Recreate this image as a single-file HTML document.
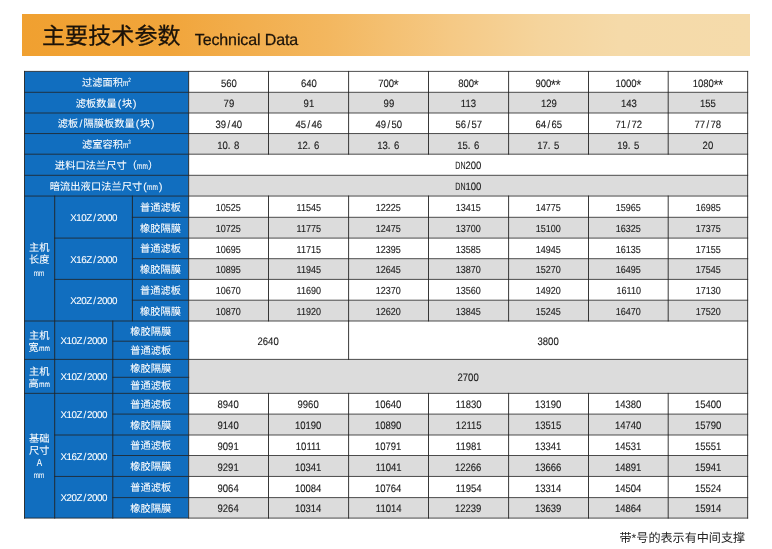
<!DOCTYPE html>
<html lang="zh-CN">
<head>
<meta charset="utf-8">
<title>主要技术参数 Technical Data</title>
<style>
html,body{margin:0;padding:0;background:#fff;}
body{text-rendering:geometricPrecision;width:772px;height:549px;position:relative;overflow:hidden;font-family:"Liberation Sans","Noto Sans CJK SC",sans-serif;}
.banner{position:absolute;left:22px;top:14px;width:728px;height:42px;background:linear-gradient(90deg,#f0a030 0%,#f1a53b 20%,#f3b75f 42%,#f5c985 59%,#f5d49c 71%,#f5daa9 82%,#f5dbab 100%);}
.title{position:absolute;left:42px;top:14px;height:42px;line-height:42px;white-space:nowrap;color:#1a1209;}
.title .zh{font-size:23px;letter-spacing:0.1px;-webkit-text-stroke:0.3px #1a1209;position:relative;top:1.4px;}
.title .en{font-size:16px;letter-spacing:-0.12px;margin-left:14.2px;position:relative;top:1.6px;-webkit-text-stroke:0.25px #1a1209;}
svg.grid{position:absolute;left:0;top:0;}
.hl{stroke:#222;stroke-width:0.8;}
.vl{stroke:#222;stroke-width:0.9;}
.c{position:absolute;width:140px;height:14px;line-height:14px;text-align:center;white-space:nowrap;}
.h{color:#fff;font-size:10.2px;letter-spacing:0.1px;-webkit-text-stroke:0.08px #fff;}
.h b{font-weight:normal;display:inline-block;width:5.1px;text-align:center;}
.h i{font-style:normal;font-size:8.8px;letter-spacing:0;line-height:0;display:inline-block;transform:scaleX(0.74);transform-origin:0 50%;margin-right:-0.433em;}
.h i.q{margin-right:-0.3em;}
.h i.w{font-size:8.2px;transform:scaleX(0.8);margin-right:-0.333em;position:relative;top:-0.2px;}
.h i sup{font-size:6px;vertical-align:baseline;position:relative;top:-4.5px;left:-0.3px;}
.d{color:#1a1a1a;font-size:10.9px;-webkit-text-stroke:0.12px #1a1a1a;}
.d span{display:inline-block;transform:scaleX(0.875);}
.d.l{font-size:10.2px;}
.d.l span{transform:scaleX(0.885);}
.d.t{font-size:10.6px;}
.d.t span{transform:scaleX(0.9);}
.d b{font-weight:normal;display:inline-block;width:6px;text-align:center;}
.d var{font-style:normal;font-size:15px;line-height:0;display:inline-block;position:relative;top:2.6px;margin-left:-0.6px;-webkit-text-stroke:0;}
.d u{display:inline-block;width:4px;text-decoration:none;}
.d em{font-style:normal;display:inline-block;transform:scaleX(0.74);transform-origin:100% 50%;margin-left:-3.2px;}
.m{font-size:9.8px;letter-spacing:-0.45px;}
.u{font-size:8.4px;letter-spacing:0;}
.u span{display:inline-block;transform:scaleX(0.74);}
.a{font-size:10px;}
.a span{display:inline-block;transform:scaleX(0.8);}
.note{position:absolute;left:619.5px;top:530.2px;font-size:12.1px;line-height:17px;color:#222;white-space:nowrap;}
</style>
</head>
<body>
<div class="banner"></div>
<div class="title"><span class="zh">主要技术参数</span><span class="en">Technical Data</span></div>
<svg class="grid" width="772" height="549" viewBox="0 0 772 549">
<rect x="24.50" y="71.40" width="164.15" height="446.70" fill="#116ebf"/>
<rect x="188.65" y="92.30" width="559.00" height="20.70" fill="#dcdcdc"/>
<rect x="188.65" y="133.55" width="559.00" height="20.65" fill="#dcdcdc"/>
<rect x="188.65" y="175.30" width="559.00" height="20.75" fill="#dcdcdc"/>
<rect x="188.65" y="217.30" width="559.00" height="20.80" fill="#dcdcdc"/>
<rect x="188.65" y="258.70" width="559.00" height="20.70" fill="#dcdcdc"/>
<rect x="188.65" y="300.20" width="559.00" height="20.80" fill="#dcdcdc"/>
<rect x="188.65" y="414.10" width="559.00" height="20.90" fill="#dcdcdc"/>
<rect x="188.65" y="455.50" width="559.00" height="20.95" fill="#dcdcdc"/>
<rect x="188.65" y="497.60" width="559.00" height="20.50" fill="#dcdcdc"/>
<rect x="188.65" y="359.40" width="559.00" height="33.95" fill="#dcdcdc"/>
<line x1="24.00" y1="71.40" x2="748.15" y2="71.40" class="hl"/>
<line x1="24.00" y1="92.30" x2="748.15" y2="92.30" class="hl"/>
<line x1="24.00" y1="113.00" x2="748.15" y2="113.00" class="hl"/>
<line x1="24.00" y1="133.55" x2="748.15" y2="133.55" class="hl"/>
<line x1="24.00" y1="154.20" x2="748.15" y2="154.20" class="hl"/>
<line x1="24.00" y1="175.30" x2="748.15" y2="175.30" class="hl"/>
<line x1="24.00" y1="196.05" x2="748.15" y2="196.05" class="hl"/>
<line x1="131.90" y1="217.30" x2="748.15" y2="217.30" class="hl"/>
<line x1="54.20" y1="238.10" x2="748.15" y2="238.10" class="hl"/>
<line x1="131.90" y1="258.70" x2="748.15" y2="258.70" class="hl"/>
<line x1="54.20" y1="279.40" x2="748.15" y2="279.40" class="hl"/>
<line x1="131.90" y1="300.20" x2="748.15" y2="300.20" class="hl"/>
<line x1="24.00" y1="321.00" x2="748.15" y2="321.00" class="hl"/>
<line x1="112.30" y1="341.20" x2="189.15" y2="341.20" class="hl"/>
<line x1="24.00" y1="359.40" x2="748.15" y2="359.40" class="hl"/>
<line x1="112.30" y1="377.30" x2="189.15" y2="377.30" class="hl"/>
<line x1="24.00" y1="393.35" x2="748.15" y2="393.35" class="hl"/>
<line x1="112.30" y1="414.10" x2="748.15" y2="414.10" class="hl"/>
<line x1="54.20" y1="435.00" x2="748.15" y2="435.00" class="hl"/>
<line x1="112.30" y1="455.50" x2="748.15" y2="455.50" class="hl"/>
<line x1="54.20" y1="476.45" x2="748.15" y2="476.45" class="hl"/>
<line x1="112.30" y1="497.60" x2="748.15" y2="497.60" class="hl"/>
<line x1="24.00" y1="518.10" x2="748.15" y2="518.10" class="hl"/>
<line x1="24.50" y1="70.95" x2="24.50" y2="518.55" class="vl"/>
<line x1="747.65" y1="70.95" x2="747.65" y2="518.55" class="vl"/>
<line x1="188.65" y1="70.95" x2="188.65" y2="518.55" class="vl"/>
<line x1="54.70" y1="195.60" x2="54.70" y2="518.55" class="vl"/>
<line x1="132.40" y1="195.60" x2="132.40" y2="321.45" class="vl"/>
<line x1="112.80" y1="320.55" x2="112.80" y2="518.55" class="vl"/>
<line x1="268.50" y1="70.95" x2="268.50" y2="154.65" class="vl"/>
<line x1="268.50" y1="195.60" x2="268.50" y2="321.45" class="vl"/>
<line x1="268.50" y1="392.90" x2="268.50" y2="518.55" class="vl"/>
<line x1="348.60" y1="70.95" x2="348.60" y2="154.65" class="vl"/>
<line x1="348.60" y1="195.60" x2="348.60" y2="321.45" class="vl"/>
<line x1="348.60" y1="392.90" x2="348.60" y2="518.55" class="vl"/>
<line x1="428.50" y1="70.95" x2="428.50" y2="154.65" class="vl"/>
<line x1="428.50" y1="195.60" x2="428.50" y2="321.45" class="vl"/>
<line x1="428.50" y1="392.90" x2="428.50" y2="518.55" class="vl"/>
<line x1="508.60" y1="70.95" x2="508.60" y2="154.65" class="vl"/>
<line x1="508.60" y1="195.60" x2="508.60" y2="321.45" class="vl"/>
<line x1="508.60" y1="392.90" x2="508.60" y2="518.55" class="vl"/>
<line x1="588.50" y1="70.95" x2="588.50" y2="154.65" class="vl"/>
<line x1="588.50" y1="195.60" x2="588.50" y2="321.45" class="vl"/>
<line x1="588.50" y1="392.90" x2="588.50" y2="518.55" class="vl"/>
<line x1="668.20" y1="70.95" x2="668.20" y2="154.65" class="vl"/>
<line x1="668.20" y1="195.60" x2="668.20" y2="321.45" class="vl"/>
<line x1="668.20" y1="392.90" x2="668.20" y2="518.55" class="vl"/>
<line x1="348.60" y1="320.55" x2="348.60" y2="359.85" class="vl"/>
</svg>
<div class="c h" style="left:36.58px;top:77px"><span>过滤面积<i class="q">m<sup>2</sup></i></span></div>
<div class="c h" style="left:36.58px;top:98px"><span>滤板数量<b>(</b>块<b>)</b></span></div>
<div class="c h" style="left:36.58px;top:118px"><span>滤板<b>/</b>隔膜板数量<b>(</b>块<b>)</b></span></div>
<div class="c h" style="left:36.58px;top:139px"><span>滤室容积<i class="q">m<sup>3</sup></i></span></div>
<div class="c h" style="left:36.58px;top:160px"><span>进料口法兰尺寸（<i>mm</i>）</span></div>
<div class="c h" style="left:36.58px;top:181px"><span>暗流出液口法兰尺寸<b>(</b><i>mm</i><b>)</b></span></div>
<div class="c d t" style="left:158.57px;top:77px"><span>560</span></div>
<div class="c d t" style="left:238.55px;top:77px"><span>640</span></div>
<div class="c d t" style="left:318.55px;top:77px"><span>700<var>*</var></span></div>
<div class="c d t" style="left:398.55px;top:77px"><span>800<var>*</var></span></div>
<div class="c d t" style="left:478.55px;top:77px"><span>900<var>*</var><var>*</var></span></div>
<div class="c d t" style="left:558.35px;top:77px"><span>1000<var>*</var></span></div>
<div class="c d t" style="left:637.92px;top:77px"><span>1080<var>*</var><var>*</var></span></div>
<div class="c d t" style="left:158.57px;top:97px"><span>79</span></div>
<div class="c d t" style="left:238.55px;top:97px"><span>91</span></div>
<div class="c d t" style="left:318.55px;top:97px"><span>99</span></div>
<div class="c d t" style="left:398.55px;top:97px"><span>113</span></div>
<div class="c d t" style="left:478.55px;top:97px"><span>129</span></div>
<div class="c d t" style="left:558.35px;top:97px"><span>143</span></div>
<div class="c d t" style="left:637.92px;top:97px"><span>155</span></div>
<div class="c d t" style="left:158.57px;top:118px"><span>39<b>/</b>40</span></div>
<div class="c d t" style="left:238.55px;top:118px"><span>45<b>/</b>46</span></div>
<div class="c d t" style="left:318.55px;top:118px"><span>49<b>/</b>50</span></div>
<div class="c d t" style="left:398.55px;top:118px"><span>56<b>/</b>57</span></div>
<div class="c d t" style="left:478.55px;top:118px"><span>64<b>/</b>65</span></div>
<div class="c d t" style="left:558.35px;top:118px"><span>71<b>/</b>72</span></div>
<div class="c d t" style="left:637.92px;top:118px"><span>77<b>/</b>78</span></div>
<div class="c d t" style="left:158.57px;top:139px"><span>10.<u></u>8</span></div>
<div class="c d t" style="left:238.55px;top:139px"><span>12.<u></u>6</span></div>
<div class="c d t" style="left:318.55px;top:139px"><span>13.<u></u>6</span></div>
<div class="c d t" style="left:398.55px;top:139px"><span>15.<u></u>6</span></div>
<div class="c d t" style="left:478.55px;top:139px"><span>17.<u></u>5</span></div>
<div class="c d t" style="left:558.35px;top:139px"><span>19.<u></u>5</span></div>
<div class="c d t" style="left:637.92px;top:139px"><span>20</span></div>
<div class="c d t" style="left:398.15px;top:159px"><span><em>DN</em>200</span></div>
<div class="c d t" style="left:398.15px;top:180px"><span><em>DN</em>100</span></div>
<div class="c d l" style="left:158.57px;top:202px"><span>10525</span></div>
<div class="c d l" style="left:238.55px;top:202px"><span>11545</span></div>
<div class="c d l" style="left:318.55px;top:202px"><span>12225</span></div>
<div class="c d l" style="left:398.55px;top:202px"><span>13415</span></div>
<div class="c d l" style="left:478.55px;top:202px"><span>14775</span></div>
<div class="c d l" style="left:558.35px;top:202px"><span>15965</span></div>
<div class="c d l" style="left:637.92px;top:202px"><span>16985</span></div>
<div class="c d l" style="left:158.57px;top:223px"><span>10725</span></div>
<div class="c d l" style="left:238.55px;top:223px"><span>11775</span></div>
<div class="c d l" style="left:318.55px;top:223px"><span>12475</span></div>
<div class="c d l" style="left:398.55px;top:223px"><span>13700</span></div>
<div class="c d l" style="left:478.55px;top:223px"><span>15100</span></div>
<div class="c d l" style="left:558.35px;top:223px"><span>16325</span></div>
<div class="c d l" style="left:637.92px;top:223px"><span>17375</span></div>
<div class="c d l" style="left:158.57px;top:244px"><span>10695</span></div>
<div class="c d l" style="left:238.55px;top:244px"><span>11715</span></div>
<div class="c d l" style="left:318.55px;top:244px"><span>12395</span></div>
<div class="c d l" style="left:398.55px;top:244px"><span>13585</span></div>
<div class="c d l" style="left:478.55px;top:244px"><span>14945</span></div>
<div class="c d l" style="left:558.35px;top:244px"><span>16135</span></div>
<div class="c d l" style="left:637.92px;top:244px"><span>17155</span></div>
<div class="c d l" style="left:158.57px;top:264px"><span>10895</span></div>
<div class="c d l" style="left:238.55px;top:264px"><span>11945</span></div>
<div class="c d l" style="left:318.55px;top:264px"><span>12645</span></div>
<div class="c d l" style="left:398.55px;top:264px"><span>13870</span></div>
<div class="c d l" style="left:478.55px;top:264px"><span>15270</span></div>
<div class="c d l" style="left:558.35px;top:264px"><span>16495</span></div>
<div class="c d l" style="left:637.92px;top:264px"><span>17545</span></div>
<div class="c d l" style="left:158.57px;top:285px"><span>10670</span></div>
<div class="c d l" style="left:238.55px;top:285px"><span>11690</span></div>
<div class="c d l" style="left:318.55px;top:285px"><span>12370</span></div>
<div class="c d l" style="left:398.55px;top:285px"><span>13560</span></div>
<div class="c d l" style="left:478.55px;top:285px"><span>14920</span></div>
<div class="c d l" style="left:558.35px;top:285px"><span>16110</span></div>
<div class="c d l" style="left:637.92px;top:285px"><span>17130</span></div>
<div class="c d l" style="left:158.57px;top:306px"><span>10870</span></div>
<div class="c d l" style="left:238.55px;top:306px"><span>11920</span></div>
<div class="c d l" style="left:318.55px;top:306px"><span>12620</span></div>
<div class="c d l" style="left:398.55px;top:306px"><span>13845</span></div>
<div class="c d l" style="left:478.55px;top:306px"><span>15245</span></div>
<div class="c d l" style="left:558.35px;top:306px"><span>16470</span></div>
<div class="c d l" style="left:637.92px;top:306px"><span>17520</span></div>
<div class="c d" style="left:158.57px;top:398px"><span>8940</span></div>
<div class="c d" style="left:238.55px;top:398px"><span>9960</span></div>
<div class="c d" style="left:318.55px;top:398px"><span>10640</span></div>
<div class="c d" style="left:398.55px;top:398px"><span>11830</span></div>
<div class="c d" style="left:478.55px;top:398px"><span>13190</span></div>
<div class="c d" style="left:558.35px;top:398px"><span>14380</span></div>
<div class="c d" style="left:637.92px;top:398px"><span>15400</span></div>
<div class="c d" style="left:158.57px;top:419px"><span>9140</span></div>
<div class="c d" style="left:238.55px;top:419px"><span>10190</span></div>
<div class="c d" style="left:318.55px;top:419px"><span>10890</span></div>
<div class="c d" style="left:398.55px;top:419px"><span>12115</span></div>
<div class="c d" style="left:478.55px;top:419px"><span>13515</span></div>
<div class="c d" style="left:558.35px;top:419px"><span>14740</span></div>
<div class="c d" style="left:637.92px;top:419px"><span>15790</span></div>
<div class="c d" style="left:158.57px;top:440px"><span>9091</span></div>
<div class="c d" style="left:238.55px;top:440px"><span>10111</span></div>
<div class="c d" style="left:318.55px;top:440px"><span>10791</span></div>
<div class="c d" style="left:398.55px;top:440px"><span>11981</span></div>
<div class="c d" style="left:478.55px;top:440px"><span>13341</span></div>
<div class="c d" style="left:558.35px;top:440px"><span>14531</span></div>
<div class="c d" style="left:637.92px;top:440px"><span>15551</span></div>
<div class="c d" style="left:158.57px;top:461px"><span>9291</span></div>
<div class="c d" style="left:238.55px;top:461px"><span>10341</span></div>
<div class="c d" style="left:318.55px;top:461px"><span>11041</span></div>
<div class="c d" style="left:398.55px;top:461px"><span>12266</span></div>
<div class="c d" style="left:478.55px;top:461px"><span>13666</span></div>
<div class="c d" style="left:558.35px;top:461px"><span>14891</span></div>
<div class="c d" style="left:637.92px;top:461px"><span>15941</span></div>
<div class="c d" style="left:158.57px;top:482px"><span>9064</span></div>
<div class="c d" style="left:238.55px;top:482px"><span>10084</span></div>
<div class="c d" style="left:318.55px;top:482px"><span>10764</span></div>
<div class="c d" style="left:398.55px;top:482px"><span>11954</span></div>
<div class="c d" style="left:478.55px;top:482px"><span>13314</span></div>
<div class="c d" style="left:558.35px;top:482px"><span>14504</span></div>
<div class="c d" style="left:637.92px;top:482px"><span>15524</span></div>
<div class="c d" style="left:158.57px;top:502px"><span>9264</span></div>
<div class="c d" style="left:238.55px;top:502px"><span>10314</span></div>
<div class="c d" style="left:318.55px;top:502px"><span>11014</span></div>
<div class="c d" style="left:398.55px;top:502px"><span>12239</span></div>
<div class="c d" style="left:478.55px;top:502px"><span>13639</span></div>
<div class="c d" style="left:558.35px;top:502px"><span>14864</span></div>
<div class="c d" style="left:637.92px;top:502px"><span>15914</span></div>
<div class="c d" style="left:198.62px;top:335px"><span>2640</span></div>
<div class="c d" style="left:478.12px;top:335px"><span>3800</span></div>
<div class="c d" style="left:398.15px;top:371px"><span>2700</span></div>
<div class="c h" style="left:-30.80px;top:242px"><span>主机</span></div>
<div class="c h" style="left:-30.80px;top:254px"><span>长度</span></div>
<div class="c h u" style="left:-30.80px;top:266px"><span>mm</span></div>
<div class="c h" style="left:-30.80px;top:330px"><span>主机</span></div>
<div class="c h" style="left:-30.80px;top:342px"><span>宽<i class="w">mm</i></span></div>
<div class="c h" style="left:-30.80px;top:366px"><span>主机</span></div>
<div class="c h" style="left:-30.80px;top:378px"><span>高<i class="w">mm</i></span></div>
<div class="c h" style="left:-30.80px;top:433px"><span>基础</span></div>
<div class="c h" style="left:-30.80px;top:445px"><span>尺寸</span></div>
<div class="c h a" style="left:-30.80px;top:457px"><span>A</span></div>
<div class="c h u" style="left:-30.80px;top:468px"><span>mm</span></div>
<div class="c h m" style="left:23.55px;top:212px"><span>X10Z<b>/</b>2000</span></div>
<div class="c h m" style="left:13.75px;top:409px"><span>X10Z<b>/</b>2000</span></div>
<div class="c h m" style="left:23.55px;top:254px"><span>X16Z<b>/</b>2000</span></div>
<div class="c h m" style="left:13.75px;top:451px"><span>X16Z<b>/</b>2000</span></div>
<div class="c h m" style="left:23.55px;top:295px"><span>X20Z<b>/</b>2000</span></div>
<div class="c h m" style="left:13.75px;top:492px"><span>X20Z<b>/</b>2000</span></div>
<div class="c h m" style="left:13.75px;top:335px"><span>X10Z<b>/</b>2000</span></div>
<div class="c h m" style="left:13.75px;top:371px"><span>X10Z<b>/</b>2000</span></div>
<div class="c h" style="left:90.53px;top:202px"><span>普通滤板</span></div>
<div class="c h" style="left:80.72px;top:399px"><span>普通滤板</span></div>
<div class="c h" style="left:90.53px;top:223px"><span>橡胶隔膜</span></div>
<div class="c h" style="left:80.72px;top:420px"><span>橡胶隔膜</span></div>
<div class="c h" style="left:90.53px;top:243px"><span>普通滤板</span></div>
<div class="c h" style="left:80.72px;top:440px"><span>普通滤板</span></div>
<div class="c h" style="left:90.53px;top:264px"><span>橡胶隔膜</span></div>
<div class="c h" style="left:80.72px;top:461px"><span>橡胶隔膜</span></div>
<div class="c h" style="left:90.53px;top:285px"><span>普通滤板</span></div>
<div class="c h" style="left:80.72px;top:482px"><span>普通滤板</span></div>
<div class="c h" style="left:90.53px;top:306px"><span>橡胶隔膜</span></div>
<div class="c h" style="left:80.72px;top:503px"><span>橡胶隔膜</span></div>
<div class="c h" style="left:80.72px;top:326px"><span>橡胶隔膜</span></div>
<div class="c h" style="left:80.72px;top:345px"><span>普通滤板</span></div>
<div class="c h" style="left:80.72px;top:363px"><span>橡胶隔膜</span></div>
<div class="c h" style="left:80.72px;top:380px"><span>普通滤板</span></div>
<div class="note">带*号的表示有中间支撑</div>
</body>
</html>
